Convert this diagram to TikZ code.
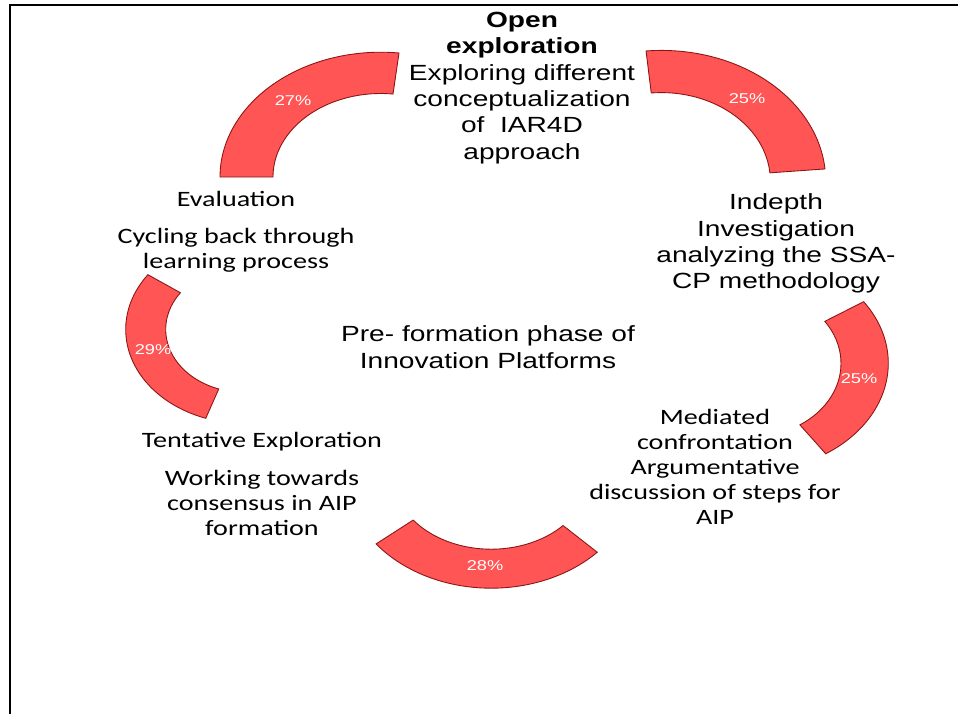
\documentclass[tikz,border=0pt]{standalone}
\usepackage{fontspec}
\setmainfont{Liberation Sans}[FakeStretch=1.28]
\newfontfamily\calibrifont{Carlito}[FakeStretch=1.28]
\usepackage{tikz}
\usetikzlibrary{calc}
\definecolor{arcred}{RGB}{255,85,85}
\definecolor{arcedge}{RGB}{140,20,20}
\tikzstyle{blockarc} = [draw=arcedge, fill=arcred, line width=0.5pt]
\tikzstyle{pct} = [text=white, inner sep=0pt, font=\fontsize{8.1}{9.5}\selectfont]
\tikzstyle{phase} = [align=center, inner sep=0pt, font=\fontsize{12.5}{15}\selectfont]
\tikzstyle{stage} = [align=center, inner sep=0pt, font=\calibrifont\fontsize{12.5}{14.2}\selectfont]

\begin{document}
\begin{tikzpicture}[x=0.02cm, y=-0.02cm]
    \useasboundingbox (0,0) rectangle (958,714);
    % Frame
    \draw [line width=1.1pt] (958,5) -- (10,5) -- (10,714);
    % Arc centres
    \coordinate (tlc) at (380.8,177);
    \coordinate (trc) at (661.5,181);
    \coordinate (lc) at (244.4,329.4);
    \coordinate (rc) at (750.5,363.3);
    \coordinate (bc) at (491.2,474.2);
    % Draw arcs
    \path [blockarc] ($(tlc)+(180:160.8 and 124.8)$) arc [start angle=180, end angle=276.5, x radius=160.8, y radius=124.8]
        -- ($(tlc)+(276.5:107.8 and 83.5)$) arc [start angle=276.5, end angle=180, x radius=107.8, y radius=83.5] -- cycle;
    \path [blockarc] ($(trc)+(264.6:164.2 and 130.6)$) arc [start angle=264.6, end angle=354.7, x radius=164.2, y radius=130.6]
        -- ($(trc)+(354.7:108.9 and 88.4)$) arc [start angle=354.7, end angle=264.6, x radius=108.9, y radius=88.4] -- cycle;
    \path [blockarc] ($(lc)+(109:118.7 and 94)$) arc [start angle=109, end angle=215.6, x radius=118.7, y radius=94]
        -- ($(lc)+(215.6:78.7 and 63)$) arc [start angle=215.6, end angle=109, x radius=78.7, y radius=63] -- cycle;
    \path [blockarc] ($(rc)+(-34.8:137.8 and 108)$) arc [start angle=-34.8, end angle=56.9, x radius=137.8, y radius=108]
        -- ($(rc)+(56.9:90.5 and 73.5)$) arc [start angle=56.9, end angle=-34.8, x radius=90.5, y radius=73.5] -- cycle;
    \path [blockarc] ($(bc)+(43.2:145.5 and 114)$) arc [start angle=43.2, end angle=142.3, x radius=145.5, y radius=114]
        -- ($(bc)+(142.3:98.6 and 75)$) arc [start angle=142.3, end angle=43.2, x radius=98.6, y radius=75] -- cycle;
    % Place nodes
    \node [pct] (p27) at (293,101) {27\%};
    \node [pct] (p25a) at (747,99) {25\%};
    \node [pct] (p29) at (153,350) {29\%};
    \node [pct] (p25b) at (859,379) {25\%};
    \node [pct] (p28) at (485,566) {28\%};
    \node [phase] (open) at (522,88) {\textbf{Open}\\\textbf{exploration}\\Exploring different\\conceptualization\\of~ IAR4D\\approach};
    \node [phase] (indepth) at (776,243.5) {Indepth\\Investigation\\analyzing the SSA-\\CP methodology};
    \node [phase] (preform) at (488,347) {Pre- formation phase of\\Innovation Platforms};
    \node [stage] (evalhead) at (236,199) {Evaluation};
    \node [stage] (evalbody) at (236,250.5) {Cycling back through\\learning process};
    \node [stage] (tenthead) at (262,442) {Tentative Exploration};
    \node [stage] (tentbody) at (262,503) {Working towards\\consensus in AIP\\formation};
    \node [stage] (mediated) at (715,467) {Mediated\\confrontation\\Argumentative\\discussion of steps for\\AIP};
\end{tikzpicture}
\end{document}
